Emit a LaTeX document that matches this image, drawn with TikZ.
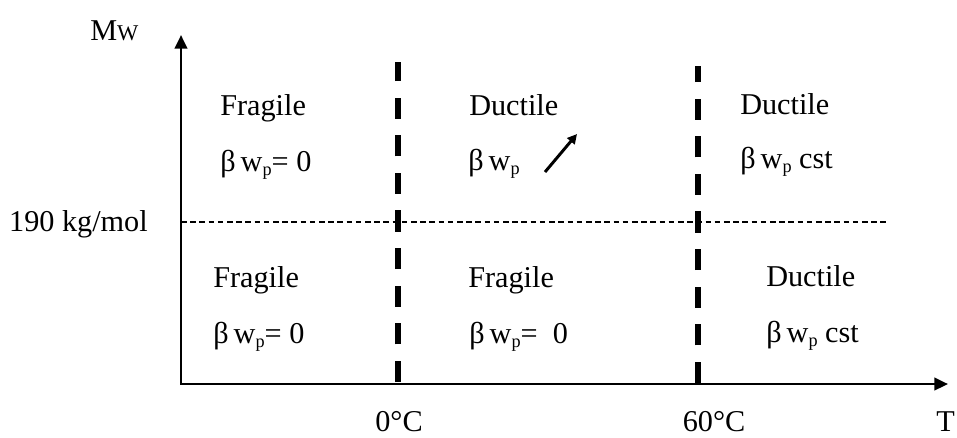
\documentclass[tikz,border=0pt]{standalone}
\usepackage{fontspec}
\setmainfont{Liberation Serif}
\usepackage{tikz}
\usetikzlibrary{arrows.meta}
\tikzset{
  axis/.style={line width=2pt, {Triangle[length=3.4mm,width=3.1mm]}-{Triangle[length=3.4mm,width=3.1mm]}},
  border/.style={line width=3.6pt, dash pattern=on 0.53cm off 0.41cm},
  limit/.style={line width=1.2pt, dash pattern=on 0.14cm off 0.09cm},
  lbl/.style={font=\fontsize{21.5}{25}\selectfont, inner sep=0pt, anchor=base west},
  trend/.style={line width=2.1pt, -{Triangle[length=2.4mm,width=2.4mm]}}
}
\newcommand{\bwp}{β\,w\raisebox{-0.35ex}{\fontsize{13}{14}\selectfont p}}

\begin{document}
\begin{tikzpicture}[x=0.025cm, y=-0.025cm]
\useasboundingbox (0,0) rectangle (957,437);
% axes
\coordinate (o) at (181,384); \coordinate (ytop) at (181,35); \coordinate (xend) at (948,384);
\draw[axis] (ytop) -- (o) -- (xend);
\node[lbl] (mw) at (90,40) {M{\fontsize{16}{18}\selectfont W}};
\node[lbl] (tax) at (936,431) {T};
% limits
\coordinate (c0b) at (398,382); \coordinate (c0t) at (398,62);
\coordinate (c60b) at (698,383); \coordinate (c60t) at (698,66);
\coordinate (h0) at (181,222); \coordinate (h1) at (888,222);
\draw[border] (c0b) -- (c0t);
\draw[border] (c60b) -- (c60t);
\draw[limit] (h0) -- (h1);
\node[lbl, anchor=base east] (mlim) at (148,231) {190 kg/mol};
\node[lbl, anchor=base] (t0) at (399,431) {0°C};
\node[lbl, anchor=base] (t60) at (714,431) {60°C};
% regions
\node[lbl] (r1) at (220,115) {Fragile};
\node[lbl] (b1) at (220,171) {\bwp= 0};
\node[lbl] (r2) at (469,115) {Ductile};
\node[lbl] (b2) at (468,170) {\bwp};
\node[lbl] (r3) at (740,114) {Ductile};
\node[lbl] (b3) at (740,168) {\bwp\ cst};
\node[lbl] (r4) at (213,287) {Fragile};
\node[lbl] (b4) at (213,343) {\bwp= 0};
\node[lbl] (r5) at (468,287) {Fragile};
\node[lbl] (b5) at (469,343) {\bwp= \ 0};
\node[lbl] (r6) at (766,286) {Ductile};
\node[lbl] (b6) at (766,342) {\bwp\ cst};
\coordinate (up0) at (545,172); \coordinate (up1) at (577,134);
\draw[trend] (up0) -- (up1);
\end{tikzpicture}
\end{document}
